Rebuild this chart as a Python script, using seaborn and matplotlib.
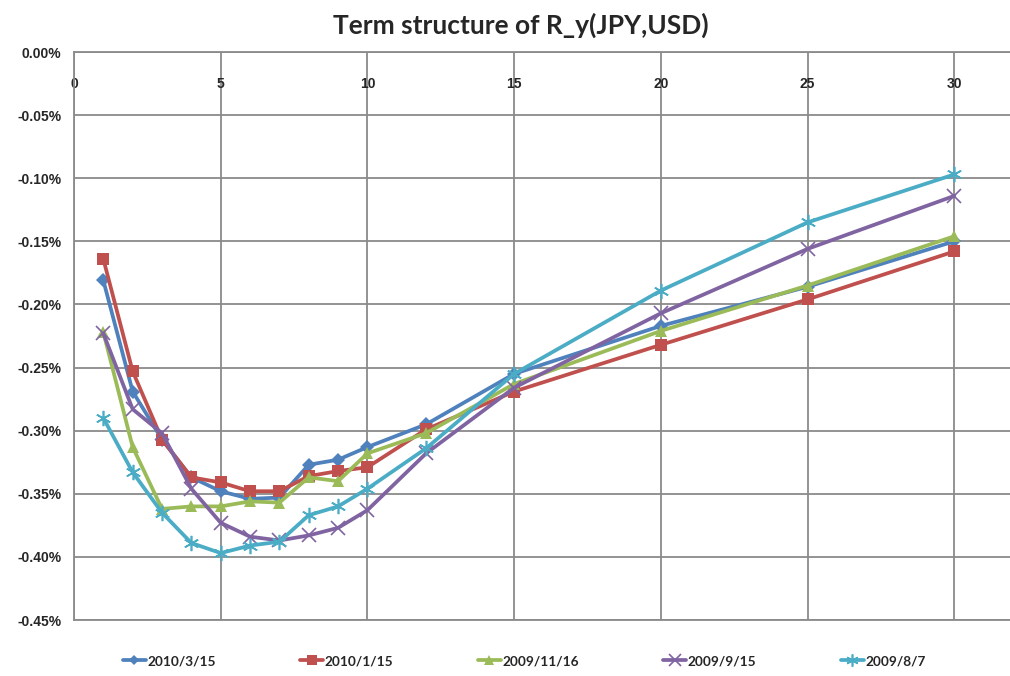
import matplotlib
matplotlib.use("Agg")
import matplotlib.pyplot as plt
import seaborn as sns
import pandas as pd
from matplotlib.ticker import FuncFormatter, MultipleLocator

# ---- data (values in %) ----
tenor = [1, 2, 3, 4, 5, 6, 7, 8, 9, 10, 12, 15, 20, 25, 30]
series_names = ["2010/3/15", "2010/1/15", "2009/11/16", "2009/9/15", "2009/8/7"]
s_20100315 = [-0.181, -0.269, -0.307, -0.337, -0.348, -0.354, -0.353, -0.327, -0.323, -0.313, -0.295, -0.255, -0.217, -0.186, -0.150]
s_20100115 = [-0.164, -0.253, -0.307, -0.337, -0.341, -0.348, -0.348, -0.336, -0.332, -0.329, -0.299, -0.269, -0.232, -0.196, -0.158]
s_20091116 = [-0.222, -0.313, -0.362, -0.360, -0.360, -0.356, -0.357, -0.337, -0.340, -0.318, -0.302, -0.263, -0.221, -0.185, -0.146]
s_20090915 = [-0.223, -0.283, -0.302, -0.346, -0.373, -0.384, -0.387, -0.383, -0.377, -0.363, -0.318, -0.266, -0.207, -0.156, -0.114]
s_20090807 = [-0.290, -0.333, -0.365, -0.389, -0.397, -0.391, -0.388, -0.367, -0.360, -0.346, -0.314, -0.255, -0.189, -0.135, -0.097]
x_ticks = [0, 5, 10, 15, 20, 25, 30]
y_ticks = [0.00, -0.05, -0.10, -0.15, -0.20, -0.25, -0.30, -0.35, -0.40, -0.45]
title = "Term structure of R_y(JPY,USD)"

values = [s_20100315, s_20100115, s_20091116, s_20090915, s_20090807]
df = pd.DataFrame({
    "tenor": tenor * len(series_names),
    "value": [v for s in values for v in s],
    "date": [n for n in series_names for _ in tenor],
})

colors = ["#4F81BD", "#C0504D", "#9BBB59", "#8064A2", "#4BACC6"]
palette = dict(zip(series_names, colors))
markers = dict(zip(series_names, ["D", "s", "^", "x", (6, 2, 0)]))
msizes = dict(zip(series_names, [7, 9, 9, 10, 11]))

sns.set_style("white")
plt.rcParams["font.family"] = ["Liberation Sans", "DejaVu Sans"]

fig = plt.figure(figsize=(10.10, 6.76), dpi=100)
ax = fig.add_axes([74 / 1010, 1 - 620 / 676, 1 - 74 / 1010, (620 - 52) / 676])

grid_c = "#8a8a8a"
ax.set_xlim(0, 31.9)
ax.set_ylim(-0.45, 0.0)
ax.xaxis.set_major_locator(MultipleLocator(5))
ax.set_yticks(y_ticks)
ax.grid(True, color=grid_c, linewidth=1.3)
ax.set_axisbelow(True)

for name in series_names:
    sub = df[df["date"] == name]
    sns.lineplot(data=sub, x="tenor", y="value", ax=ax, color=palette[name],
                 marker=markers[name], markersize=msizes[name],
                 markeredgewidth=1.2 if name in ("2009/9/15", "2009/8/7") else 0,
                 markeredgecolor=palette[name],
                 linewidth=2.7, label=name, legend=False, sort=False)

ax.set_xticks(x_ticks)
ax.yaxis.set_major_formatter(FuncFormatter(lambda v, p: f"{v:.2f}%"))
ax.xaxis.tick_top()
ax.tick_params(axis="x", length=0, pad=-28, labelsize=10)
ax.tick_params(axis="y", length=0, pad=9, labelsize=10)
for lab in ax.get_xticklabels() + ax.get_yticklabels():
    lab.set_fontweight("bold")
ax.set_xlabel("")
ax.set_ylabel("")

for side in ["top", "left", "bottom"]:
    ax.spines[side].set_color(grid_c)
    ax.spines[side].set_linewidth(1.3)
ax.spines["right"].set_visible(False)

fig.text(0.516, 0.962, title, ha="center", va="center", fontsize=19,
         fontweight="bold", family=["Lato", "DejaVu Sans"])

handles = ax.get_lines()
handles = [h for h in handles if h.get_label() in series_names]
leg = fig.legend(handles=handles, labels=series_names, loc="center",
                 bbox_to_anchor=(0.519, 0.022), ncol=5, frameon=False,
                 handlelength=1.7, columnspacing=6.2, handletextpad=0.1,
                 markerscale=0.8,
                 prop={"family": ["Lato", "DejaVu Sans"], "weight": "bold", "size": 9.8})

fig.savefig("out.png", dpi=100)
